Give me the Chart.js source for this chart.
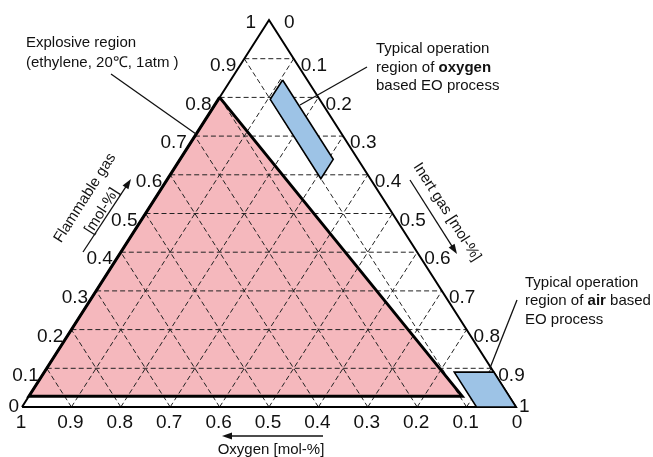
<!DOCTYPE html>
<html>
<head>
<meta charset="utf-8">
<script src="https://cdn.jsdelivr.net/npm/chart.js@4/dist/chart.umd.min.js"></script>
<style>
  html, body { margin: 0; padding: 0; background: #fff; }
  #wrap { width: 653px; height: 457px; position: relative; }
</style>
</head>
<body>
<div id="wrap"><canvas id="chart"></canvas></div>
<script>
// ternary grid, fractions of each component
const gridTicks = [0.1, 0.2, 0.3, 0.4, 0.5, 0.6, 0.7, 0.8, 0.9];
const tickLabels = ['0.1', '0.2', '0.3', '0.4', '0.5', '0.6', '0.7', '0.8', '0.9'];

// explosive region (ethylene, 20C, 1atm) - corners as flammable / inert fraction
const explosiveFlammable = [0.8, 0.028, 0.028];
const explosiveInert = [0, 0, 0.877];

// typical operation window, oxygen based EO process
const oxygenProcFlammable = [0.845, 0.795, 0.59, 0.64];
const oxygenProcInert = [0.105, 0.105, 0.31, 0.31];

// typical operation window, air based EO process
const airProcFlammable = [0, 0, 0.09, 0.09];
const airProcInert = [1, 0.92, 0.83, 0.91];

const FONT = '"Liberation Sans", Arial, sans-serif';
const TEXT = '#111';

// flammable = top corner, inert = bottom right, oxygen = bottom left
function tern(f, i) {
    return { x: i + f / 2, y: f };
}

function polygon(fl, inert, close) {
    const pts = fl.map((f, k) => tern(f, inert[k]));
    if (close) pts.push(pts[0]);
    return pts;
}

const datasets = [];

// process windows on top
datasets.push({
    data: polygon(oxygenProcFlammable, oxygenProcInert, true),
    borderColor: '#000', borderWidth: 1.6, backgroundColor: '#9dc3e6', fill: 'shape', order: 1
});
datasets.push({
    data: polygon(airProcFlammable, airProcInert, true),
    borderColor: '#000', borderWidth: 1.6, backgroundColor: '#9dc3e6', fill: 'shape', order: 1
});

// outer triangle
datasets.push({
    data: [tern(0, 0), tern(0, 1), tern(1, 0), tern(0, 0)],
    borderColor: '#000', borderWidth: 2, fill: false, order: 2
});

// explosive region outline
datasets.push({
    data: polygon(explosiveFlammable, explosiveInert, true),
    borderColor: '#000', borderWidth: 3, fill: false, order: 3
});

// dashed grid lines
gridTicks.forEach(t => {
    datasets.push({ data: [tern(t, 0), tern(t, 1 - t)], order: 4 });           // constant flammable
    datasets.push({ data: [tern(0, t), tern(1 - t, t)], order: 4 });           // constant inert
    datasets.push({ data: [tern(0, 1 - t), tern(1 - t, 0)], order: 4 });       // constant oxygen
});
datasets.forEach(d => {
    if (d.order === 4) {
        d.borderColor = '#222';
        d.borderWidth = 1;
        d.borderDash = [5, 3];
        d.fill = false;
    }
});

// explosive region fill, bottom layer
datasets.push({
    data: polygon(explosiveFlammable, explosiveInert, true),
    borderWidth: 0, borderColor: 'rgba(0,0,0,0)', backgroundColor: '#f5b8bd', fill: 'shape', order: 5
});

datasets.forEach(d => {
    d.pointRadius = 0;
    d.clip = false;
});

function arrow(ctx, x1, y1, x2, y2) {
    const a = Math.atan2(y2 - y1, x2 - x1);
    ctx.beginPath();
    ctx.moveTo(x1, y1);
    ctx.lineTo(x2 - 7 * Math.cos(a), y2 - 7 * Math.sin(a));
    ctx.stroke();
    ctx.beginPath();
    ctx.moveTo(x2, y2);
    ctx.lineTo(x2 - 10 * Math.cos(a) + 3.5 * Math.sin(a), y2 - 10 * Math.sin(a) - 3.5 * Math.cos(a));
    ctx.lineTo(x2 - 10 * Math.cos(a) - 3.5 * Math.sin(a), y2 - 10 * Math.sin(a) + 3.5 * Math.cos(a));
    ctx.closePath();
    ctx.fill();
}

function line(ctx, x1, y1, x2, y2) {
    ctx.beginPath();
    ctx.moveTo(x1, y1);
    ctx.lineTo(x2, y2);
    ctx.stroke();
}

// text runs: [text, bold]
function richText(ctx, runs, x, y, size) {
    let cx = x;
    runs.forEach(r => {
        ctx.font = (r[1] ? 'bold ' : '') + size + 'px ' + FONT;
        ctx.fillText(r[0], cx, y);
        cx += ctx.measureText(r[0]).width;
    });
}

const labelsPlugin = {
    id: 'ternaryLabels',
    afterDraw(chart) {
        const ctx = chart.ctx;
        const xs = chart.scales.x, ys = chart.scales.y;
        const px = (f, i) => {
            const p = tern(f, i);
            return { x: xs.getPixelForValue(p.x), y: ys.getPixelForValue(p.y) };
        };
        ctx.save();
        ctx.fillStyle = TEXT;
        ctx.strokeStyle = TEXT;
        ctx.textBaseline = 'middle';
        ctx.font = '19px ' + FONT;

        gridTicks.forEach((t, k) => {
            // flammable, left side
            let p = px(t, 0);
            ctx.textAlign = 'right';
            ctx.fillText(tickLabels[k], p.x - 8, p.y + 7);
            // inert, right side
            p = px(1 - t, t);
            ctx.textAlign = 'left';
            ctx.fillText(tickLabels[k], p.x + 7, p.y + 7);
            // oxygen, bottom
            p = px(0, 1 - t);
            ctx.textAlign = 'center';
            ctx.fillText(tickLabels[k], p.x - 1, p.y + 16);
        });

        // corner values
        let p = px(1, 0);
        ctx.textAlign = 'right';
        ctx.fillText('1', p.x - 13, p.y + 3);
        ctx.textAlign = 'left';
        ctx.fillText('0', p.x + 15, p.y + 3);
        p = px(0, 0);
        ctx.textAlign = 'right';
        ctx.fillText('0', p.x - 3, p.y);
        ctx.textAlign = 'center';
        ctx.fillText('1', p.x - 1, p.y + 16);
        p = px(0, 1);
        ctx.textAlign = 'left';
        ctx.fillText('1', p.x + 3, p.y);
        ctx.textAlign = 'center';
        ctx.fillText('0', p.x + 1, p.y + 16);

        // axis titles
        ctx.font = '15px ' + FONT;
        const ang = Math.atan2(387, 247);
        ctx.save();
        ctx.translate(85, 198);
        ctx.rotate(-ang);
        ctx.fillText('Flammable gas', 0, 0);
        ctx.restore();
        ctx.save();
        ctx.translate(102, 211);
        ctx.rotate(-ang);
        ctx.fillText('[mol-%]', 0, 0);
        ctx.restore();
        ctx.save();
        ctx.translate(447, 212);
        ctx.rotate(ang);
        ctx.fillText('Inert gas [mol-%]', 0, 0);
        ctx.restore();
        ctx.fillText('Oxygen [mol-%]', 271, 450);

        ctx.lineWidth = 1.3;
        arrow(ctx, 83, 252, 131, 179);
        arrow(ctx, 410, 180, 457, 254);
        arrow(ctx, 323, 436, 222, 436);

        // annotations
        ctx.textAlign = 'left';
        richText(ctx, [['Explosive region', false]], 26, 43, 15);
        richText(ctx, [['(ethylene, 20\u2103, 1atm )', false]], 26, 63, 15);
        line(ctx, 111, 74, 196, 134);

        richText(ctx, [['Typical operation', false]], 376, 49, 15);
        richText(ctx, [['region of ', false], ['oxygen', true]], 376, 68, 15);
        richText(ctx, [['based EO process', false]], 376, 86, 15);
        line(ctx, 367, 67, 300, 105);

        richText(ctx, [['Typical operation', false]], 525, 283, 15);
        richText(ctx, [['region of ', false], ['air', true], [' based', false]], 525, 301, 15);
        richText(ctx, [['EO process', false]], 525, 320, 15);
        line(ctx, 517, 300, 490, 368);

        ctx.restore();
    }
};

new Chart(document.getElementById('chart'), {
    type: 'line',
    data: { datasets: datasets },
    options: {
        responsive: true,
        maintainAspectRatio: false,
        animation: false,
        layout: { padding: { left: 22, right: 137, top: 20, bottom: 50 } },
        scales: {
            x: { type: 'linear', min: 0, max: 1, display: false },
            y: { type: 'linear', min: 0, max: 1, display: false }
        },
        elements: { line: { tension: 0 } },
        plugins: {
            legend: { display: false },
            tooltip: { enabled: false }
        }
    },
    plugins: [labelsPlugin]
});
</script>
</body>
</html>
